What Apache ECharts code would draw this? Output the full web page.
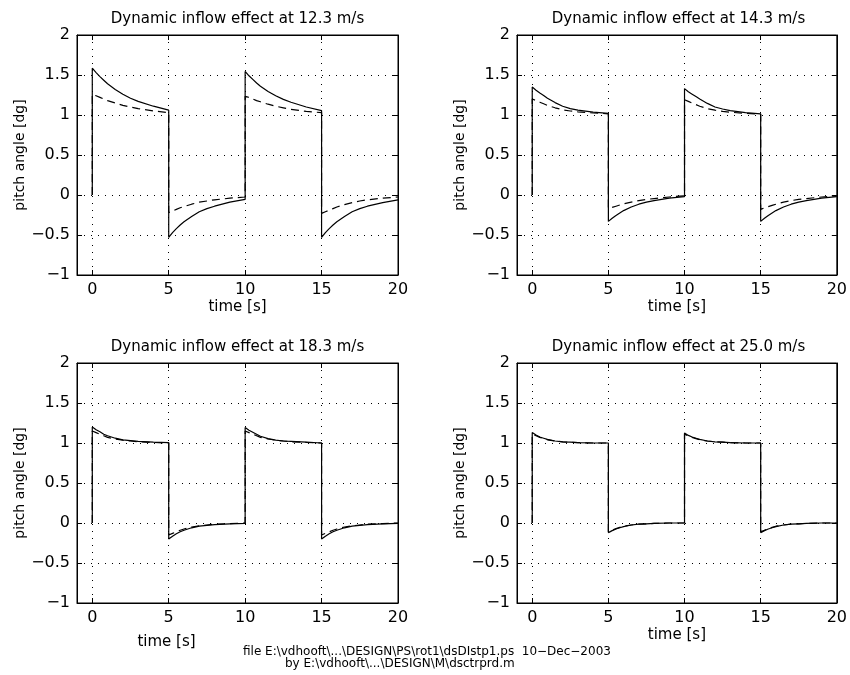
<!DOCTYPE html>
<html><head><meta charset="utf-8">
<script src="https://cdn.jsdelivr.net/npm/echarts@6/dist/echarts.min.js"></script>
<style>html,body{margin:0;padding:0;background:#fff}#c{width:850px;height:675px}</style>
</head><body><div id="c"></div><script>
// time offsets inside each 5 s step segment
const segTimes = [0, 0.25, 0.5, 0.75, 1, 1.5, 2, 2.5, 3, 4, 5];
const stepStarts = [0, 5, 10, 15];
const xTicks = [0, 5, 10, 15, 20];
const titles = [
  'Dynamic inflow effect at 12.3 m/s',
  'Dynamic inflow effect at 14.3 m/s',
  'Dynamic inflow effect at 18.3 m/s',
  'Dynamic inflow effect at 25.0 m/s'
];
const xName = 'time [s]';
const yName = 'pitch angle [dg]';
const footer1 = 'file E:\\vdhooft\\...\\DESIGN\\PS\\rot1\\dsDIstp1.ps  10\u2212Dec\u22122003';
const footer2 = 'by E:\\vdhooft\\...\\DESIGN\\M\\dsctrprd.m';

// panel 1 (12.3 m/s)
const p1Solid = [
  [1.585, 1.53, 1.48, 1.435, 1.39, 1.32, 1.26, 1.21, 1.17, 1.11, 1.06],
  [-0.53, -0.47, -0.42, -0.375, -0.335, -0.27, -0.21, -0.17, -0.14, -0.09, -0.055],
  [1.545, 1.49, 1.445, 1.40, 1.36, 1.295, 1.24, 1.195, 1.16, 1.10, 1.055],
  [-0.53, -0.47, -0.42, -0.375, -0.335, -0.27, -0.21, -0.17, -0.14, -0.095, -0.06]
];
const p1Dashed = [
  [1.26, 1.24, 1.22, 1.20, 1.18, 1.15, 1.12, 1.10, 1.08, 1.05, 1.03],
  [-0.22, -0.20, -0.18, -0.16, -0.145, -0.115, -0.09, -0.075, -0.06, -0.04, -0.025],
  [1.235, 1.22, 1.20, 1.18, 1.165, 1.135, 1.11, 1.09, 1.07, 1.045, 1.03],
  [-0.23, -0.21, -0.19, -0.17, -0.15, -0.12, -0.095, -0.075, -0.06, -0.04, -0.025]
];
// panel 2 (14.3 m/s)
const p2Solid = [
  [1.35, 1.31, 1.275, 1.245, 1.21, 1.155, 1.11, 1.08, 1.06, 1.035, 1.02],
  [-0.33, -0.29, -0.255, -0.225, -0.195, -0.15, -0.115, -0.09, -0.07, -0.04, -0.02],
  [1.33, 1.29, 1.26, 1.23, 1.20, 1.145, 1.10, 1.075, 1.055, 1.03, 1.015],
  [-0.33, -0.29, -0.255, -0.225, -0.195, -0.15, -0.115, -0.09, -0.07, -0.04, -0.02]
];
const p2Dashed = [
  [1.20, 1.18, 1.16, 1.14, 1.12, 1.09, 1.065, 1.05, 1.04, 1.025, 1.015],
  [-0.17, -0.155, -0.14, -0.125, -0.11, -0.09, -0.07, -0.055, -0.045, -0.025, -0.01],
  [1.19, 1.17, 1.15, 1.13, 1.11, 1.08, 1.06, 1.045, 1.035, 1.02, 1.01],
  [-0.18, -0.16, -0.145, -0.13, -0.115, -0.09, -0.07, -0.055, -0.045, -0.025, -0.01]
];
// panel 3 (18.3 m/s)
const p3Solid = [
  [1.20, 1.165, 1.14, 1.11, 1.09, 1.06, 1.04, 1.03, 1.02, 1.01, 1.005],
  [-0.20, -0.165, -0.135, -0.11, -0.09, -0.06, -0.04, -0.03, -0.02, -0.01, -0.005],
  [1.195, 1.16, 1.135, 1.11, 1.085, 1.055, 1.035, 1.025, 1.02, 1.01, 1.0],
  [-0.20, -0.165, -0.135, -0.11, -0.09, -0.06, -0.04, -0.03, -0.02, -0.01, -0.005]
];
const p3Dashed = [
  [1.15, 1.13, 1.11, 1.09, 1.07, 1.05, 1.035, 1.025, 1.015, 1.007, 1.0],
  [-0.15, -0.13, -0.11, -0.09, -0.075, -0.05, -0.035, -0.025, -0.015, -0.007, 0],
  [1.15, 1.13, 1.11, 1.09, 1.07, 1.05, 1.035, 1.025, 1.015, 1.007, 1.0],
  [-0.15, -0.13, -0.11, -0.09, -0.075, -0.05, -0.035, -0.025, -0.015, -0.007, 0]
];
// panel 4 (25.0 m/s)
const p4Solid = [
  [1.13, 1.10, 1.075, 1.06, 1.045, 1.025, 1.015, 1.01, 1.005, 1.0, 1.0],
  [-0.12, -0.095, -0.075, -0.06, -0.045, -0.025, -0.015, -0.01, -0.005, 0, 0],
  [1.125, 1.095, 1.075, 1.06, 1.045, 1.025, 1.015, 1.01, 1.005, 1.0, 1.0],
  [-0.12, -0.095, -0.075, -0.06, -0.045, -0.025, -0.015, -0.01, -0.005, 0, 0]
];
const p4Dashed = [
  [1.11, 1.09, 1.07, 1.055, 1.04, 1.025, 1.015, 1.01, 1.005, 1.0, 1.0],
  [-0.11, -0.09, -0.07, -0.055, -0.04, -0.025, -0.015, -0.01, -0.005, 0, 0],
  [1.11, 1.09, 1.07, 1.055, 1.04, 1.025, 1.015, 1.01, 1.005, 1.0, 1.0],
  [-0.11, -0.09, -0.07, -0.055, -0.04, -0.025, -0.015, -0.01, -0.005, 0, 0]
];

const panels = [
  {solid: p1Solid, dashed: p1Dashed},
  {solid: p2Solid, dashed: p2Dashed},
  {solid: p3Solid, dashed: p3Dashed},
  {solid: p4Solid, dashed: p4Dashed}
];

function buildLine(segs) {
  const pts = [[0, 0]];
  segs.forEach((vals, k) => {
    vals.forEach((v, i) => pts.push([stepStarts[k] + segTimes[i], v]));
  });
  return pts;
}

const FONT = 'DejaVu Sans';
const grids = [
  {left: 77, top: 35, width: 321, height: 240},
  {left: 517, top: 35, width: 323, height: 240},
  {left: 77, top: 363, width: 321, height: 240},
  {left: 517, top: 363, width: 323, height: 240}
];
const xNameGap = [25, 25, 32, 25];
const xNamePad = [[0,0,0,0],[0,0,0,0],[0,142,0,0],[0,0,0,0]];

const dotted = {color: '#000', width: 1, type: [1, 6]};
const fmtY = v => (v < 0 ? '\u2212' + Math.abs(v) : String(v));

const option = {
  animation: false,
  backgroundColor: '#fff',
  grid: grids.map(g => Object.assign({show: true, borderColor: '#000', borderWidth: 1, backgroundColor: '#fff'}, g)),
  xAxis: [],
  yAxis: [],
  series: [],
  graphic: []
};

grids.forEach((g, i) => {
  option.xAxis.push({
    type: 'value', gridIndex: i, min: -1, max: 20, position: 'bottom',
    axisLine: {show: true, onZero: false, lineStyle: {color: '#000', width: 1}},
    axisTick: {show: true, inside: true, length: 5, customValues: xTicks, lineStyle: {color: '#000'}},
    axisLabel: {customValues: xTicks, color: '#000', fontSize: 16, fontFamily: FONT, margin: 7},
    splitLine: {show: true, lineStyle: dotted},
    name: xName, nameLocation: 'middle', nameGap: xNameGap[i],
    nameTextStyle: {color: '#000', fontSize: 15, fontFamily: FONT, padding: xNamePad[i]}
  });
  option.xAxis.push({
    type: 'value', gridIndex: i, min: -1, max: 20, position: 'top',
    axisLine: {show: true, onZero: false, lineStyle: {color: '#000', width: 1}},
    axisTick: {show: true, inside: true, length: 5, customValues: xTicks, lineStyle: {color: '#000'}},
    axisLabel: {show: false}, splitLine: {show: false}
  });
  option.yAxis.push({
    type: 'value', gridIndex: i, min: -1, max: 2, interval: 0.5, position: 'left',
    axisLine: {show: true, onZero: false, lineStyle: {color: '#000', width: 1}},
    axisTick: {show: true, inside: true, length: 5, lineStyle: {color: '#000'}},
    axisLabel: {color: '#000', fontSize: 16, fontFamily: FONT, margin: 7, formatter: fmtY},
    splitLine: {show: true, lineStyle: dotted},
    name: yName, nameLocation: 'middle', nameGap: 47, nameRotate: 90,
    nameTextStyle: {color: '#000', fontSize: 14, fontFamily: FONT}
  });
  option.yAxis.push({
    type: 'value', gridIndex: i, min: -1, max: 2, interval: 0.5, position: 'right',
    axisLine: {show: true, onZero: false, lineStyle: {color: '#000', width: 1}},
    axisTick: {show: true, inside: true, length: 5, lineStyle: {color: '#000'}},
    axisLabel: {show: false}, splitLine: {show: false}
  });
  const p = panels[i];
  option.series.push({
    type: 'line', xAxisIndex: 2 * i, yAxisIndex: 2 * i, data: buildLine(p.dashed),
    symbol: 'none', lineStyle: {color: '#000', width: 1.2, type: [8, 5]}, z: 3
  });
  option.series.push({
    type: 'line', xAxisIndex: 2 * i, yAxisIndex: 2 * i, data: buildLine(p.solid),
    symbol: 'none', lineStyle: {color: '#000', width: 1.2}, z: 4
  });
  option.graphic.push({
    type: 'text', x: g.left + g.width / 2, y: g.top - 16,
    style: {text: titles[i], fill: '#000', font: '15px "' + FONT + '"', textAlign: 'center', textVerticalAlign: 'middle'}
  });
});

option.graphic.push({
  type: 'text', x: 243, y: 652,
  style: {text: footer1, fill: '#000', font: '12px "' + FONT + '"', textAlign: 'left', textVerticalAlign: 'middle'}
});
option.graphic.push({
  type: 'text', x: 285, y: 664,
  style: {text: footer2, fill: '#000', font: '12px "' + FONT + '"', textAlign: 'left', textVerticalAlign: 'middle'}
});

const chart = echarts.init(document.getElementById('c'), null, {renderer: 'canvas'});
chart.setOption(option);
</script></body></html>
